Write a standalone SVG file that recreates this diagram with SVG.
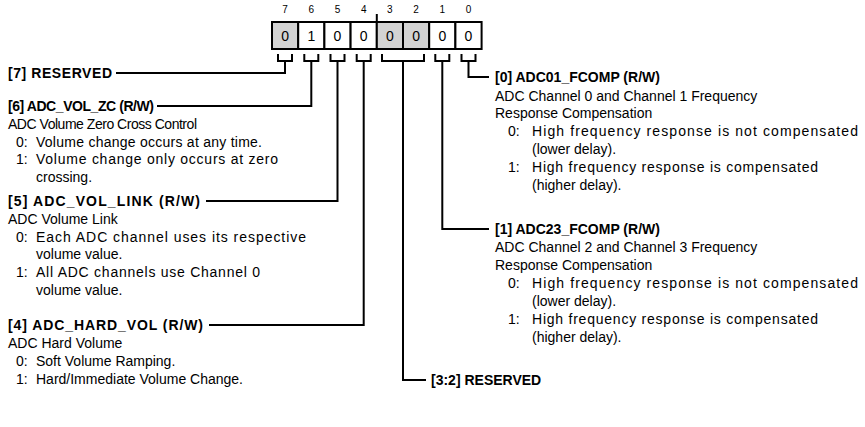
<svg xmlns="http://www.w3.org/2000/svg" width="865" height="427" viewBox="0 0 865 427">
<style>
text{font-family:"Liberation Sans",Arial,sans-serif;fill:#000}
.t{font-size:14px;font-weight:bold}
.b{font-size:14px}
.n{font-size:10px;text-anchor:middle}
.v{font-size:14px;text-anchor:middle}
.cell{stroke:#000;stroke-width:2}
.w{fill:#fff}
.g{fill:#d3d3d3}
.c{fill:none;stroke:#000;stroke-width:2}
</style>
<rect width="865" height="427" fill="#fff"/>
<g id="register">
<text class="n" x="285.1" y="13">7</text>
<text class="n" x="311.3" y="13">6</text>
<text class="n" x="337.5" y="13">5</text>
<text class="n" x="363.7" y="13">4</text>
<text class="n" x="389.9" y="13">3</text>
<text class="n" x="416.1" y="13">2</text>
<text class="n" x="442.3" y="13">1</text>
<text class="n" x="468.5" y="13">0</text>
<line x1="376.8" y1="14" x2="376.8" y2="22" stroke="#000" stroke-width="2"/>
<rect class="cell g" x="272" y="22" width="26.2" height="27"/>
<rect class="cell w" x="298.2" y="22" width="26.2" height="27"/>
<rect class="cell w" x="324.4" y="22" width="26.2" height="27"/>
<rect class="cell w" x="350.6" y="22" width="26.2" height="27"/>
<rect class="cell g" x="376.8" y="22" width="26.2" height="27"/>
<rect class="cell g" x="403" y="22" width="26.2" height="27"/>
<rect class="cell w" x="429.2" y="22" width="26.2" height="27"/>
<rect class="cell w" x="455.4" y="22" width="26.2" height="27"/>
<text class="v" x="285.1" y="40.5">0</text>
<text class="v" x="311.3" y="40.5">1</text>
<text class="v" x="337.5" y="40.5">0</text>
<text class="v" x="363.7" y="40.5">0</text>
<text class="v" x="389.9" y="40.5">0</text>
<text class="v" x="416.1" y="40.5">0</text>
<text class="v" x="442.3" y="40.5">0</text>
<text class="v" x="468.5" y="40.5">0</text>
</g>
<g id="connectors">
<path class="c" d="M278 54V61H292V54M285 61V73H116"/>
<path class="c" d="M304.3 54V61H318.3V54M311.3 61V106H157"/>
<path class="c" d="M330.5 54V61H344.5V54M337.5 61V201H206"/>
<path class="c" d="M356.7 54V61H370.7V54M363.7 61V325H209"/>
<path class="c" d="M382 54V61H424V54M403 61V380H426"/>
<path class="c" d="M435.3 54V61H449.3V54M442.3 61V229H489"/>
<path class="c" d="M461.5 54V61H475.5V54M468.5 61V77H489"/>
</g>
<g id="bit7">
<text class="t" x="8" y="78" textLength="104">[7] RESERVED</text>
</g>
<g id="bit6">
<text class="t" x="8" y="111" textLength="146">[6] ADC_VOL_ZC (R/W)</text>
<text class="b" x="8" y="129" textLength="189">ADC Volume Zero Cross Control</text>
<text class="b" x="16" y="147">0:</text><text class="b" x="36" y="147" textLength="226">Volume change occurs at any time.</text>
<text class="b" x="16" y="164">1:</text><text class="b" x="36" y="164" textLength="242">Volume change only occurs at zero</text>
<text class="b" x="36" y="182">crossing.</text>
</g>
<g id="bit5">
<text class="t" x="8" y="206" textLength="192">[5] ADC_VOL_LINK (R/W)</text>
<text class="b" x="8" y="224">ADC Volume Link</text>
<text class="b" x="16" y="242">0:</text><text class="b" x="36" y="242" textLength="270">Each ADC channel uses its respective</text>
<text class="b" x="36" y="259">volume value.</text>
<text class="b" x="16" y="277">1:</text><text class="b" x="36" y="277" textLength="224">All ADC channels use Channel 0</text>
<text class="b" x="36" y="295">volume value.</text>
</g>
<g id="bit4">
<text class="t" x="8" y="330" textLength="195">[4] ADC_HARD_VOL (R/W)</text>
<text class="b" x="8" y="348">ADC Hard Volume</text>
<text class="b" x="16" y="366">0:</text><text class="b" x="36" y="366">Soft Volume Ramping.</text>
<text class="b" x="16" y="384">1:</text><text class="b" x="36" y="384">Hard/Immediate Volume Change.</text>
</g>
<g id="bit0">
<text class="t" x="495" y="82">[0] ADC01_FCOMP (R/W)</text>
<text class="b" x="495" y="101">ADC Channel 0 and Channel 1 Frequency</text>
<text class="b" x="495" y="118">Response Compensation</text>
<text class="b" x="508" y="136">0:</text><text class="b" x="532" y="136" textLength="326">High frequency response is not compensated</text>
<text class="b" x="532" y="154">(lower delay).</text>
<text class="b" x="508" y="172">1:</text><text class="b" x="532" y="172" textLength="286">High frequency response is compensated</text>
<text class="b" x="532" y="190">(higher delay).</text>
</g>
<g id="bit1">
<text class="t" x="495" y="234">[1] ADC23_FCOMP (R/W)</text>
<text class="b" x="495" y="252">ADC Channel 2 and Channel 3 Frequency</text>
<text class="b" x="495" y="270">Response Compensation</text>
<text class="b" x="508" y="288">0:</text><text class="b" x="532" y="288" textLength="326">High frequency response is not compensated</text>
<text class="b" x="532" y="306">(lower delay).</text>
<text class="b" x="508" y="324">1:</text><text class="b" x="532" y="324" textLength="286">High frequency response is compensated</text>
<text class="b" x="532" y="342">(higher delay).</text>
</g>
<g id="bit3_2">
<text class="t" x="431" y="385">[3:2] RESERVED</text>
</g>
</svg>
